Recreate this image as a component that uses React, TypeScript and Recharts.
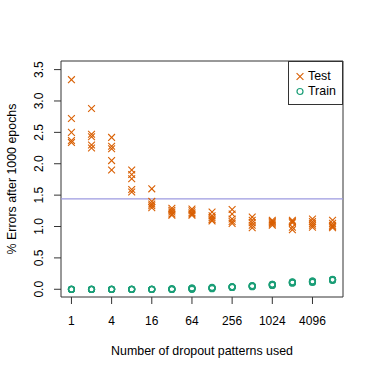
import React from "react"
import {
  ScatterChart,
  Scatter,
  XAxis,
  YAxis,
  ReferenceLine,
  ReferenceArea,
} from "recharts"

// number of dropout patterns (x, log scale)
const patterns = [1, 2, 4, 8, 16, 32, 64, 128, 256, 512, 1024, 2048, 4096, 8192]
const xTicks = [1, 4, 16, 64, 256, 1024, 4096]
const yTicks = [0, 0.5, 1, 1.5, 2, 2.5, 3, 3.5]

// % errors on test set, 5 runs per pattern count
const testErrors = [
  [3.34, 2.72, 2.5, 2.37, 2.34],
  [2.88, 2.47, 2.43, 2.3, 2.25],
  [2.42, 2.28, 2.24, 2.05, 1.9],
  [1.9, 1.83, 1.76, 1.59, 1.55],
  [1.6, 1.4, 1.36, 1.33, 1.3],
  [1.29, 1.26, 1.23, 1.2, 1.18],
  [1.28, 1.25, 1.22, 1.2, 1.18],
  [1.23, 1.17, 1.14, 1.11, 1.09],
  [1.27, 1.2, 1.12, 1.08, 1.05],
  [1.15, 1.1, 1.06, 1.02, 0.98],
  [1.1, 1.08, 1.06, 1.04, 1.02],
  [1.1, 1.08, 1.06, 0.99, 0.95],
  [1.12, 1.08, 1.05, 1.02, 0.99],
  [1.1, 1.05, 1.02, 1.0, 0.98],
]

// % errors on training set, 5 runs per pattern count
const trainErrors = [
  [0, 0, 0, 0, 0],
  [0, 0, 0, 0, 0],
  [0, 0, 0, 0, 0],
  [0, 0, 0, 0, 0],
  [0, 0, 0, 0, 0],
  [0, 0, 0, 0, 0.01],
  [0, 0.01, 0.01, 0.02, 0.02],
  [0.01, 0.02, 0.02, 0.02, 0.03],
  [0.03, 0.03, 0.04, 0.04, 0.04],
  [0.04, 0.05, 0.05, 0.05, 0.06],
  [0.06, 0.07, 0.07, 0.08, 0.08],
  [0.1, 0.1, 0.11, 0.11, 0.12],
  [0.11, 0.12, 0.12, 0.13, 0.13],
  [0.14, 0.15, 0.15, 0.15, 0.16],
]

const baseline = 1.44

const ORANGE = "#d95f02"
const GREEN = "#1b9e77"
const FONT = "'Liberation Sans', Arial, Helvetica, sans-serif"

const toPoints = (runs: number[][]) =>
  patterns.flatMap((p, i) => runs[i].map((v) => ({ x: p, y: v })))

const testData = toPoints(testErrors)
const trainData = toPoints(trainErrors)

const Cross = (props: any) => {
  const { cx, cy } = props
  const r = 3.4
  return (
    <g>
      <line x1={cx - r} y1={cy - r} x2={cx + r} y2={cy + r} stroke={ORANGE} strokeWidth={1.1} />
      <line x1={cx - r} y1={cy + r} x2={cx + r} y2={cy - r} stroke={ORANGE} strokeWidth={1.1} />
    </g>
  )
}

const Ring = (props: any) => {
  const { cx, cy } = props
  return <circle cx={cx} cy={cy} r={3} fill="none" stroke={GREEN} strokeWidth={1.2} />
}

const XTick = (props: any) => {
  const { x, y, payload } = props
  return (
    <text x={x} y={y + 19} textAnchor="middle" fontSize={12} fill="#000" fontFamily={FONT}>
      {payload.value}
    </text>
  )
}

const YTick = (props: any) => {
  const { x, y, payload } = props
  const tx = x - 9
  return (
    <text
      x={tx}
      y={y}
      transform={`rotate(-90, ${tx}, ${y})`}
      textAnchor="middle"
      fontSize={12}
      fill="#000"
      fontFamily={FONT}
    >
      {Number(payload.value).toFixed(1)}
    </text>
  )
}

const XTitle = (props: any) => {
  const { x, y, width } = props.viewBox
  return (
    <text x={x + width / 2} y={y + 57.5} textAnchor="middle" fontSize={12.4} fill="#000" fontFamily={FONT}>
      Number of dropout patterns used
    </text>
  )
}

const YTitle = (props: any) => {
  const { x, y, width, height } = props.viewBox
  const tx = x + width - 45.5
  const ty = y + height / 2
  return (
    <text
      x={tx}
      y={ty}
      transform={`rotate(-90, ${tx}, ${ty})`}
      textAnchor="middle"
      fontSize={12.4}
      fill="#000"
      fontFamily={FONT}
    >
      % Errors after 1000 epochs
    </text>
  )
}

const legendItems = [
  { name: "Test", shape: "x" },
  { name: "Train", shape: "o" },
]

const LegendBox = () => (
  <div
    style={{
      position: "absolute",
      left: 288,
      top: 61,
      width: 55,
      height: 44,
      border: "1px solid #333",
      background: "#fff",
      fontFamily: FONT,
      fontSize: 12.4,
      color: "#000",
      boxSizing: "border-box",
      paddingTop: 6.5,
    }}
  >
    {legendItems.map((item) => (
      <div key={item.name} style={{ display: "flex", alignItems: "center", height: 15.5, lineHeight: "15.5px" }}>
        <svg width={17} height={15} style={{ marginLeft: 3, flex: "none" }}>
          {item.shape === "x" ? <Cross cx={8} cy={7.5} /> : <Ring cx={8} cy={7.5} />}
        </svg>
        <span style={{ marginLeft: -1 }}>{item.name}</span>
      </div>
    ))}
  </div>
)

export default function App() {
  const xDomain = [Math.pow(2, -0.52), Math.pow(2, 13.52)]
  const yDomain = [-0.123, 3.637]
  return (
    <div style={{ position: "absolute", left: 0, top: 0, width: 374, height: 374, background: "#fff" }}>
      <ScatterChart width={374} height={374} margin={{ top: 61, right: 31, bottom: 47, left: 31 }}>
        <XAxis
          dataKey="x"
          type="number"
          scale="log"
          domain={xDomain}
          allowDataOverflow
          ticks={xTicks}
          interval={0}
          height={30}
          tick={<XTick />}
          tickSize={7}
          tickLine={{ stroke: "#333" }}
          axisLine={false}
          label={<XTitle />}
        />
        <YAxis
          dataKey="y"
          type="number"
          domain={yDomain}
          allowDataOverflow
          ticks={yTicks}
          interval={0}
          width={30}
          tick={<YTick />}
          tickSize={7}
          tickLine={{ stroke: "#333" }}
          axisLine={false}
          label={<YTitle />}
        />
        <ReferenceLine y={baseline} stroke="#9d9ae0" strokeWidth={1.2} />
        <Scatter name="Train" data={trainData} shape={<Ring />} isAnimationActive={false} />
        <Scatter name="Test" data={testData} shape={<Cross />} isAnimationActive={false} />
        <ReferenceArea
          x1={xDomain[0]}
          x2={xDomain[1]}
          y1={yDomain[0]}
          y2={yDomain[1]}
          fill="none"
          stroke="#333"
          strokeWidth={1}
          ifOverflow="visible"
        />
      </ScatterChart>
      <LegendBox />
    </div>
  )
}
